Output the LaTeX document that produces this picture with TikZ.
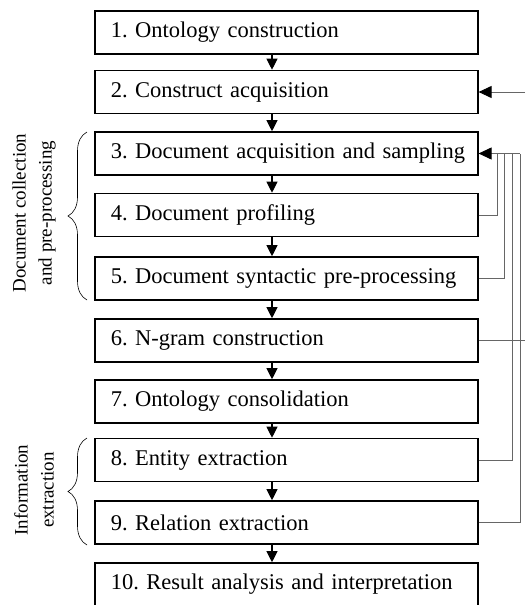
\documentclass[tikz,border=0pt]{standalone}
\usepackage{fontspec}
\setmainfont{Liberation Serif}
\usetikzlibrary{arrows.meta,decorations.pathreplacing}
\frenchspacing

\begin{document}
\begin{tikzpicture}[x=1pt,y=-1pt,
    >={Triangle[length=11pt,width=11pt]},
    stepbox/.style={draw,line width=1.6pt,anchor=west,minimum height=43pt,
      text width=367pt,inner xsep=8pt,inner ysep=0pt,align=left,
      execute at begin node={\hspace*{8pt}},
      font=\fontsize{22.5}{26}\selectfont},
    flow/.style={->,line width=1.1pt},
    loopback/.style={draw=black!60,line width=1pt},
    bigtip/.style={-{Triangle[length=13pt,width=12pt,color=black]}},
    grouplabel/.style={rotate=90,align=center,font=\fontsize{19}{26}\selectfont},
    groupbrace/.style={decorate,decoration={brace,amplitude=19pt},line width=0.6pt}]
%
\useasboundingbox (0,0) rectangle (525,605);
%
% ============ Schritte ============
\node[stepbox] (s1)  at (94,32.5)  {1. Ontology construction};
\node[stepbox] (s2)  at (94,92)    {2. Construct acquisition};
\node[stepbox] (s3)  at (94,153.5) {3. Document acquisition and sampling};
\node[stepbox] (s4)  at (94,215)   {4. Document profiling};
\node[stepbox] (s5)  at (94,278.5) {5. Document syntactic pre-processing};
\node[stepbox] (s6)  at (94,340.5) {6. N-gram construction};
\node[stepbox] (s7)  at (94,401.5) {7. Ontology consolidation};
\node[stepbox] (s8)  at (94,460)   {8. Entity extraction};
\node[stepbox] (s9)  at (94,522.5) {9. Relation extraction};
\node[stepbox] (s10) at (94,584.5) {10. Result analysis and interpretation};
%
% Pfeile nach unten
\coordinate (ax) at (272,0);
\draw[flow] (s1.south -| ax) -- (s2.north -| ax);
\draw[flow] (s2.south -| ax) -- (s3.north -| ax);
\draw[flow] (s3.south -| ax) -- (s4.north -| ax);
\draw[flow] (s4.south -| ax) -- (s5.north -| ax);
\draw[flow] (s5.south -| ax) -- (s6.north -| ax);
\draw[flow] (s6.south -| ax) -- (s7.north -| ax);
\draw[flow] (s7.south -| ax) -- (s8.north -| ax);
\draw[flow] (s8.south -| ax) -- (s9.north -| ax);
\draw[flow] (s9.south -| ax) -- (s10.north -| ax);
%
% ============ Rueckfuehrungen rechts ============
\coordinate (j4) at (497,153.5);
\coordinate (j5) at (504,153.5);
\coordinate (j8) at (512,153.5);
\coordinate (j9) at (520,153.5);
\coordinate (out6) at (525,340.5);
\coordinate (back2) at (525,92);
\draw[loopback] (s4.east) -| (j4);
\draw[loopback] (s5.east) -| (j5);
\draw[loopback] (s8.east) -| (j8);
\draw[loopback] (s9.east) -| (j9);
\draw[loopback,bigtip] (j9) -- (s3.east);
\draw[loopback] (s6.east) -- (out6);
\draw[loopback,bigtip] (back2) -- (s2.east);
%
% ============ Gruppen links ============
\coordinate (b1top) at (87,132);
\coordinate (b1bot) at (87,300);
\coordinate (b2top) at (87,438);
\coordinate (b2bot) at (87,545);
\draw[groupbrace] (b1bot) -- (b1top);
\draw[groupbrace] (b2bot) -- (b2top);
\node[grouplabel] (g1) at (34,213) {Document collection\\and pre-processing};
\node[grouplabel] (g2) at (34,490) {Information\\extraction};
%
\end{tikzpicture}
\end{document}
